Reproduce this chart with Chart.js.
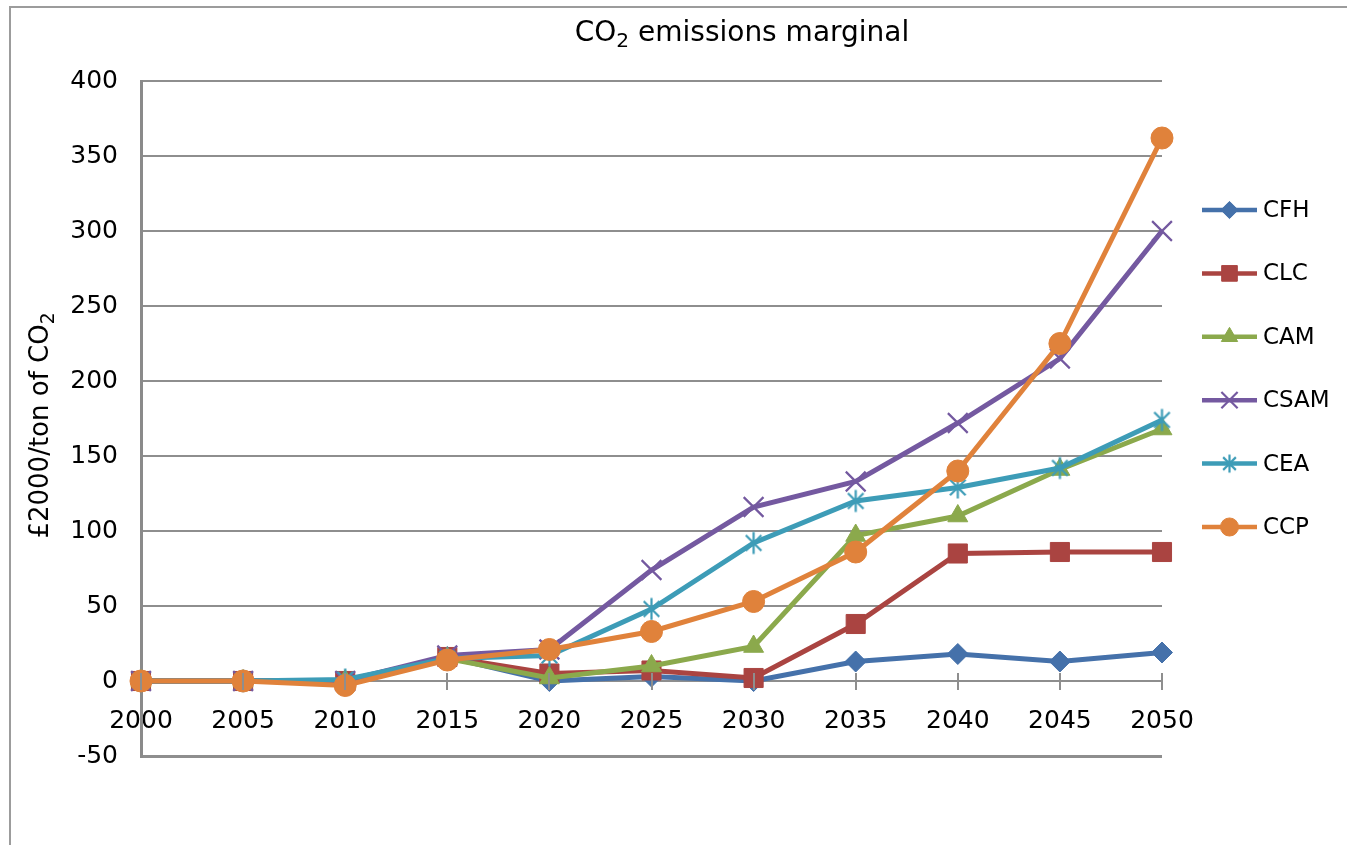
<!DOCTYPE html>
<html>
<head>
<meta charset="utf-8">
<title>CO₂ emissions marginal</title>
<script src="https://cdn.jsdelivr.net/npm/chart.js@4/dist/chart.umd.min.js"></script>
<style>
  html, body { margin: 0; padding: 0; background: #ffffff; }
  #wrap { width: 1347px; height: 845px; }
</style>
</head>
<body>
<div id="wrap"><canvas id="chart" width="1347" height="845"></canvas></div>
<script>
// Marginal CO2 price per scenario, £2000 per tonne of CO2
const years = ['2000', '2005', '2010', '2015', '2020', '2025', '2030', '2035', '2040', '2045', '2050'];
const seriesNames = ['CFH', 'CLC', 'CAM', 'CSAM', 'CEA', 'CCP'];
const cfh  = [0, 0, 0, 16, 0, 3, 0, 13, 18, 13, 19];
const clc  = [0, 0, 0, 16, 5, 7, 2, 38, 85, 86, 86];
const cam  = [0, 0, 0, 15, 2, 10, 23, 97, 110, 141, 168];
const csam = [0, 0, 0, 17, 21, 74, 116, 133, 172, 215, 300];
const cea  = [0, 0, 1, 15, 17, 48, 92, 120, 129, 142, 174];
const ccp  = [0, 0, -3, 14, 21, 33, 53, 86, 140, 225, 362];
const yTicks = [-50, 0, 50, 100, 150, 200, 250, 300, 350, 400];

// title and axis title, split so the "2" of CO2 can be set as a subscript
const titleParts = [{ t: 'CO' }, { t: '2', sub: true }, { t: ' emissions marginal' }];
const yTitleParts = [{ t: '£2000/ton of CO' }, { t: '2', sub: true }];

const FONT = "'DejaVu Sans', Verdana, sans-serif";
const colors = ['#4571aa', '#aa4441', '#8ba94c', '#7459a0', '#3d9cb7', '#e0823b'];

// six-armed asterisk marker (X plus a vertical stroke)
function asterisk(color, r, lw) {
  const c = document.createElement('canvas');
  const s = Math.ceil(2 * r + lw + 2);
  c.width = s; c.height = s;
  const g = c.getContext('2d');
  const m = s / 2, d = r * Math.SQRT1_2;
  g.strokeStyle = color; g.lineWidth = lw; g.lineCap = 'butt';
  g.beginPath();
  g.moveTo(m - d, m - d); g.lineTo(m + d, m + d);
  g.moveTo(m + d, m - d); g.lineTo(m - d, m + d);
  g.moveTo(m, m - r); g.lineTo(m, m + r);
  g.stroke();
  return c;
}

const markers = [
  { style: 'rectRot', radius: 10.5 },
  { style: 'rect', radius: 13.5 },
  { style: 'triangle', radius: 11.5 },
  { style: 'crossRot', radius: 14 },
  { style: asterisk(colors[4], 11, 2.2), legendStyle: asterisk(colors[4], 9, 2.2), radius: 11 },
  { style: 'circle', radius: 11 }
];
const values = [cfh, clc, cam, csam, cea, ccp];

const datasets = seriesNames.map((name, i) => ({
  label: name,
  data: values[i],
  borderColor: colors[i],
  backgroundColor: colors[i],
  borderWidth: 5,
  pointStyle: markers[i].style,
  pointRadius: markers[i].radius,
  pointHoverRadius: markers[i].radius,
  pointBackgroundColor: colors[i],
  pointBorderColor: colors[i],
  pointBorderWidth: (markers[i].style === 'crossRot') ? 2.2 : 1,
  tension: 0,
  fill: false,
  order: seriesNames.length - i
}));

// draws text runs centred on (cx, cy); subscript runs are smaller and lowered
function drawRuns(ctx, parts, cx, cy, size) {
  const subSize = size * 0.72;
  const widths = parts.map(p => {
    ctx.font = (p.sub ? subSize : size) + 'px ' + FONT;
    return ctx.measureText(p.t).width;
  });
  const total = widths.reduce((a, b) => a + b, 0);
  let x = cx - total / 2;
  ctx.textAlign = 'left';
  ctx.textBaseline = 'alphabetic';
  const base = cy + size * 0.36;
  parts.forEach((p, i) => {
    ctx.font = (p.sub ? subSize : size) + 'px ' + FONT;
    ctx.fillText(p.t, x, p.sub ? base + size * 0.2 : base);
    x += widths[i];
  });
}

// frame around the whole chart
const framePlugin = {
  id: 'frame',
  beforeDraw(chart) {
    const ctx = chart.ctx;
    ctx.save();
    ctx.fillStyle = '#ffffff';
    ctx.fillRect(0, 0, chart.width, chart.height);
    ctx.strokeStyle = '#9c9c9c';
    ctx.lineWidth = 2;
    ctx.strokeRect(10, 7, chart.width + 20, chart.height + 20);
    ctx.restore();
  }
};

// chart title and rotated y-axis title
const titles = {
  id: 'titles',
  afterDraw(chart) {
    const ctx = chart.ctx;
    const area = chart.chartArea;
    ctx.save();
    ctx.fillStyle = '#000000';
    drawRuns(ctx, titleParts, 742, 31, 28);
    ctx.translate(41, (area.top + area.bottom) / 2 + 7);
    ctx.rotate(-Math.PI / 2);
    drawRuns(ctx, yTitleParts, 0, -2, 26);
    ctx.restore();
  }
};

// tick marks crossing the x axis at every category
const crossTicks = {
  id: 'crossTicks',
  afterDraw(chart) {
    const xs = chart.scales.x, ys = chart.scales.y;
    const y0 = ys.getPixelForValue(0);
    const ctx = chart.ctx;
    ctx.save();
    ctx.strokeStyle = '#8e8e8e';
    ctx.lineWidth = 2;
    ctx.beginPath();
    xs.ticks.forEach((t, i) => {
      const px = Math.round(xs.getPixelForTick(i));
      ctx.moveTo(px, y0 - 8);
      ctx.lineTo(px, y0 + 9);
    });
    ctx.stroke();
    ctx.restore();
  }
};

// legend on the right: line segment with marker, then the series name
const sideLegend = {
  id: 'sideLegend',
  afterDraw(chart) {
    const ctx = chart.ctx;
    const area = chart.chartArea;
    const x0 = area.right + 40, x1 = area.right + 95, xm = (x0 + x1) / 2;
    const top = 210, step = 63.4;
    ctx.save();
    chart.data.datasets.forEach((ds, i) => {
      const y = top + i * step;
      ctx.strokeStyle = ds.borderColor;
      ctx.lineWidth = 4.5;
      ctx.beginPath();
      ctx.moveTo(x0, y);
      ctx.lineTo(x1, y);
      ctx.stroke();
      const m = markers[i];
      ctx.fillStyle = ds.pointBackgroundColor;
      ctx.strokeStyle = ds.pointBorderColor;
      ctx.lineWidth = ds.pointBorderWidth;
      Chart.helpers.drawPoint(ctx, {
        pointStyle: m.legendStyle || m.style,
        radius: m.radius * 0.82,
        rotation: 0,
        borderWidth: ds.pointBorderWidth
      }, xm, y);
      ctx.fillStyle = '#000000';
      ctx.font = '23px ' + FONT;
      ctx.textAlign = 'left';
      ctx.textBaseline = 'middle';
      ctx.fillText(ds.label, x1 + 6, y + 1);
    });
    ctx.restore();
  }
};

new Chart(document.getElementById('chart'), {
  type: 'line',
  data: { labels: years, datasets },
  plugins: [framePlugin, crossTicks, sideLegend, titles],
  options: {
    responsive: false,
    animation: false,
    events: [],
    layout: { padding: { left: 10, right: 185, top: 81, bottom: 89 } },
    plugins: {
      legend: { display: false },
      tooltip: { enabled: false },
      title: { display: false }
    },
    scales: {
      x: {
        type: 'category',
        position: { y: 0 },
        offset: false,
        grid: { display: false, drawTicks: false },
        border: { display: true, color: '#8e8e8e', width: 2 },
        ticks: {
          color: '#000000',
          padding: 25,
          maxRotation: 0,
          autoSkip: false,
          font: { family: FONT, size: 25 }
        }
      },
      y: {
        min: -50,
        max: 400,
        afterBuildTicks(scale) { scale.ticks = yTicks.map(v => ({ value: v })); },
        afterFit(scale) { scale.width = 131; },
        grid: {
          drawTicks: false,
          color: '#8e8e8e',
          lineWidth: (c) => (c.tick && c.tick.value === -50) ? 3 : 2
        },
        border: { display: true, color: '#8a8a8a', width: 3 },
        ticks: {
          color: '#000000',
          padding: 23,
          font: { family: FONT, size: 25 }
        },
        title: { display: false }
      }
    }
  }
});
</script>
</body>
</html>
